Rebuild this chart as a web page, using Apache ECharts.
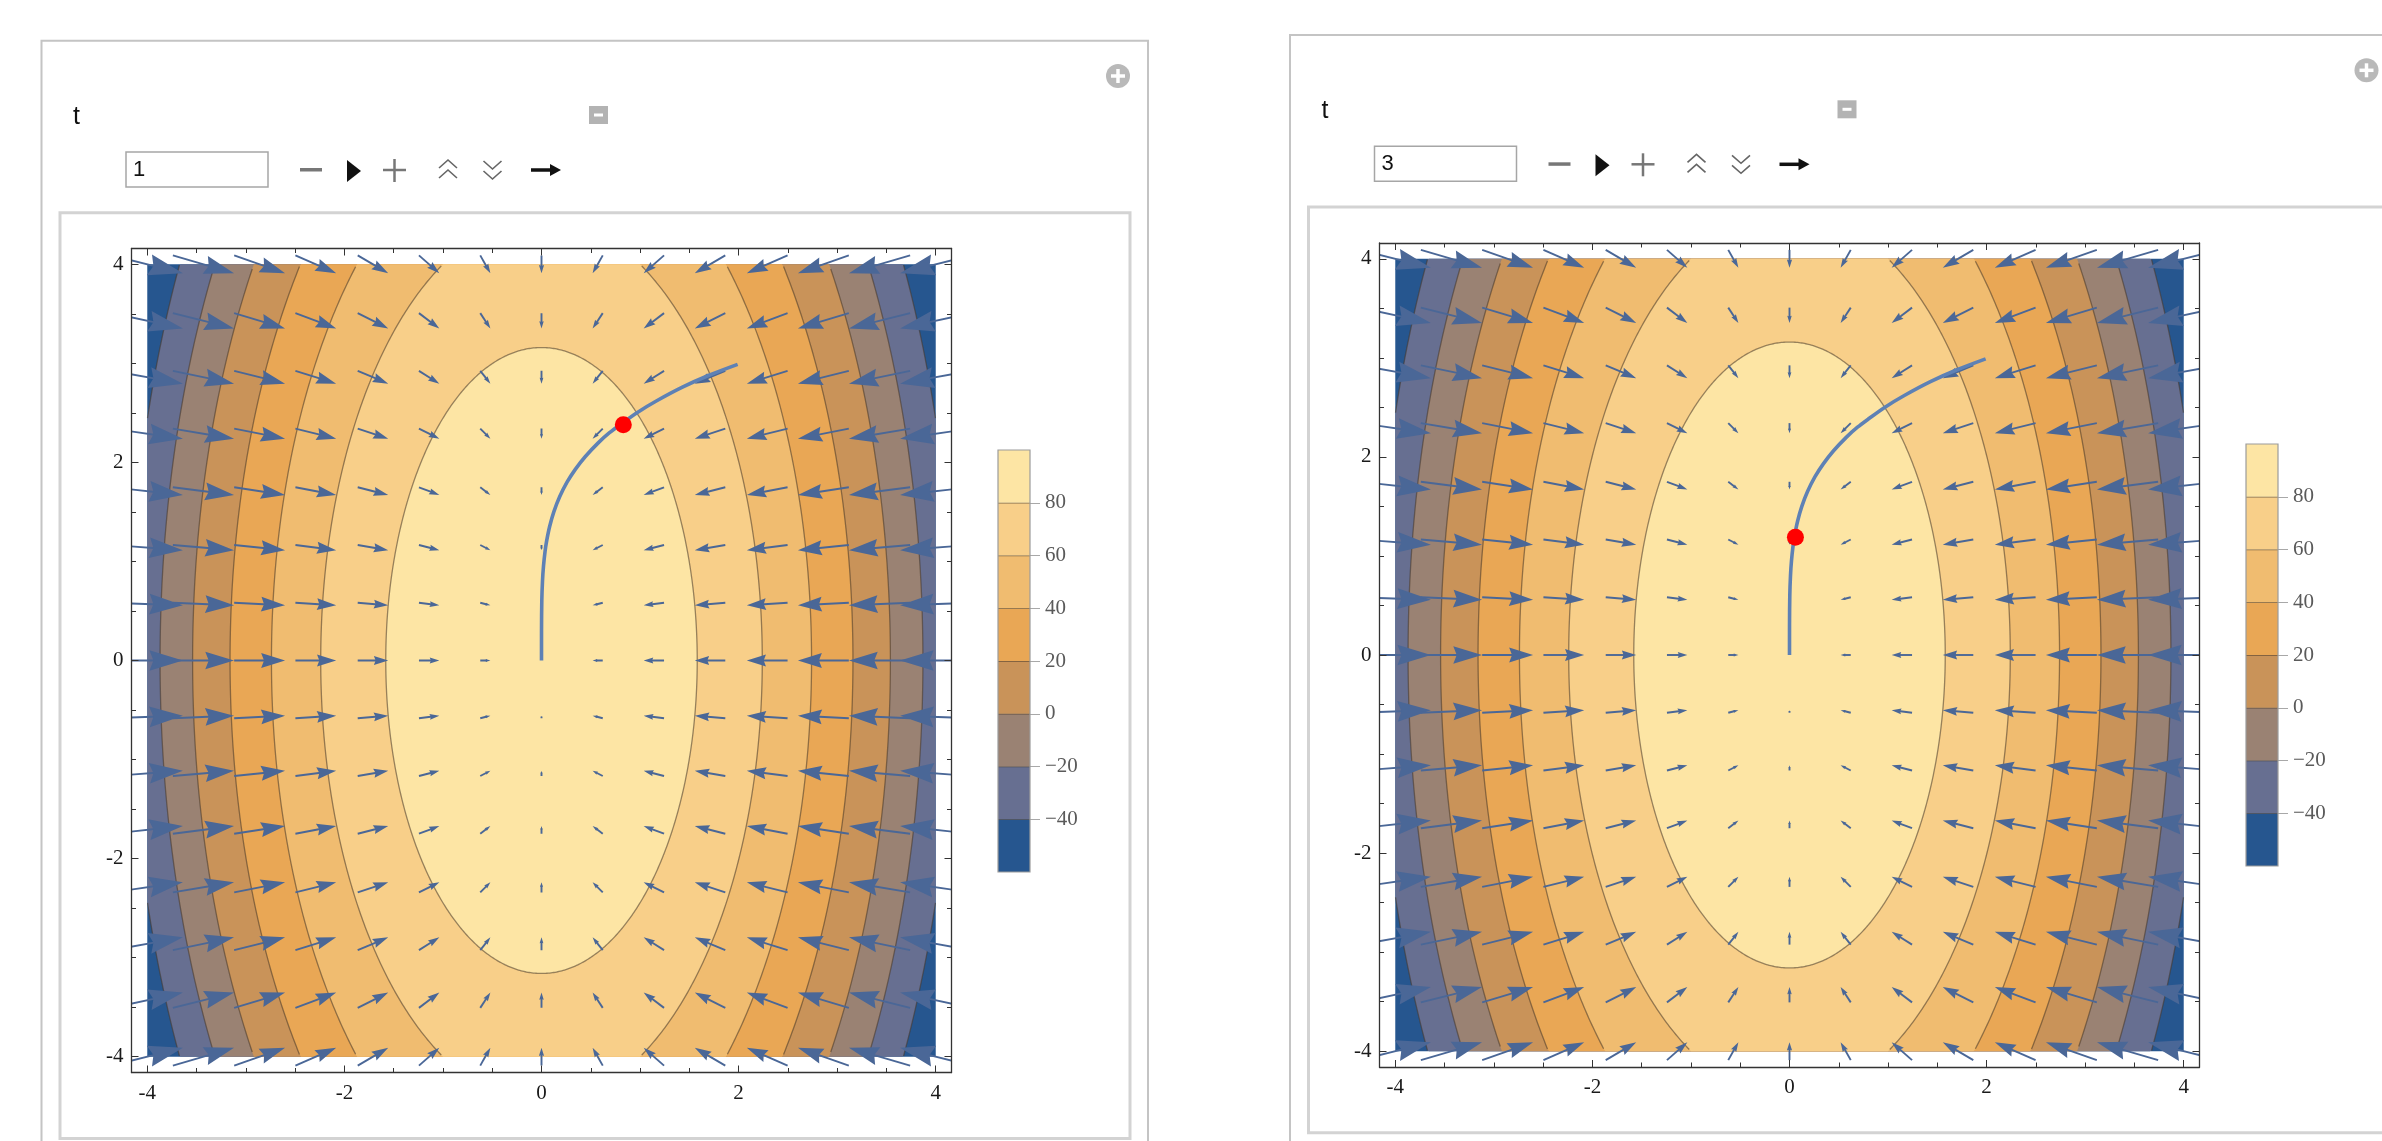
<!DOCTYPE html>
<html><head><meta charset="utf-8">
<script src="https://cdn.jsdelivr.net/npm/echarts@6/dist/echarts.min.js"></script>
<style>html,body{margin:0;padding:0;background:#fff;overflow:hidden}#c{width:2382px;height:1141px;}</style>
</head><body><div id="c"></div>
<script>
// ---------------- data ----------------
const tValues = [1, 3];
const contourLevels = [-40, -20, 0, 20, 40, 60, 80];
const bandColors = ['#26568f', '#676f91', '#9a8273', '#c99359', '#e9a755', '#f0bc70', '#f8cf89', '#fde5a4'];
// semi-axes of each contour ellipse (x half-width, y half-height), same order as contourLevels
const contourSemiX = [4.18, 3.87, 3.54, 3.16, 2.74, 2.24, 1.58];
const contourSemiY = [8.37, 7.75, 7.07, 6.32, 5.48, 4.47, 3.16];
// vector field sample grid and arrow components
const arrowGridX = [-4, -3.43, -2.86, -2.29, -1.71, -1.14, -0.57, 0, 0.57, 1.14, 1.71, 2.29, 2.86, 3.43, 4];
const arrowGridY = [-4, -3.43, -2.86, -2.29, -1.71, -1.14, -0.57, 0, 0.57, 1.14, 1.71, 2.29, 2.86, 3.43, 4];
const arrowDX = [64, 54.9, 45.7, 36.6, 27.4, 18.3, 9.1, 0, -9.1, -18.3, -27.4, -36.6, -45.7, -54.9, -64];
const arrowDY = [16, 13.7, 11.4, 9.1, 6.9, 4.6, 2.3, 0, -2.3, -4.6, -6.9, -9.1, -11.4, -13.7, -16];
// trajectory curve
const pathX = [0, 0.0002, 0.003, 0.01, 0.02, 0.036, 0.051, 0.082, 0.125, 0.183, 0.259, 0.343, 0.445, 0.578, 0.69, 0.81, 0.965, 1.165, 1.43, 1.70, 1.99];
const pathY = [0, 0.3, 0.6, 0.8, 0.95, 1.1, 1.2, 1.35, 1.5, 1.65, 1.8, 1.93, 2.06, 2.2, 2.3, 2.39, 2.5, 2.62, 2.76, 2.88, 2.99];
// red point position for each t
const pointX = [0.83, 0.06];
const pointY = [2.38, 1.19];
const majorTicks = [-4, -2, 0, 2, 4];
const minorTicks = [-3.5, -3, -2.5, -1.5, -1, -0.5, 0.5, 1, 1.5, 2.5, 3, 3.5];

// ---------------- styles ----------------
const FRAME = '#333333';
const ARROW_COLOR = '#4a6797';
const ARROW_SCALE = 0.0113;
const AX_MIN = -4.16, AX_MAX = 4.16;
const BOX = 4;

const plotGrids = [
  {left: 131.5, top: 248.5, width: 820, height: 824},
  {left: 1379.5, top: 243, width: 820, height: 824}
];
const legendGrids = [
  {left: 998, top: 450, width: 32, height: 422},
  {left: 2246, top: 444, width: 32, height: 422}
];
const panelOffsets = [[0, 0], [1248.5, -5.7]];
const innerBoxWidths = [1070, 1080];

const legendBounds = [contourLevels[0] - 20].concat(contourLevels, [contourLevels[contourLevels.length - 1] + 20]);

function fmtAxis(v) { return v < 0 ? '-' + (-v) : String(v); }
function fmtLegend(v) { return v < 0 ? '\u2212' + (-v) : String(v); }

const xAxes = [], yAxes = [];
function addPlotAxes(g) {
  const base = {gridIndex: g, type: 'value', min: AX_MIN, max: AX_MAX, splitLine: {show: false}, z: 10, silent: true};
  const lab = {show: true, customValues: majorTicks, formatter: fmtAxis, fontFamily: 'Liberation Serif', fontSize: 21, color: '#1a1a1a'};
  const line = {show: true, onZero: false, lineStyle: {color: FRAME, width: 1.3}};
  const noLine = {show: false, onZero: false};
  const maj = {show: true, inside: true, length: 7, customValues: majorTicks, lineStyle: {color: FRAME, width: 1}};
  const min = {show: true, inside: true, length: 4.5, customValues: minorTicks, lineStyle: {color: FRAME, width: 1}};
  xAxes.push(Object.assign({}, base, {position: 'bottom', axisLine: line, axisTick: maj, axisLabel: Object.assign({}, lab, {margin: 10})}));
  xAxes.push(Object.assign({}, base, {position: 'bottom', axisLine: noLine, axisTick: min, axisLabel: {show: false}}));
  xAxes.push(Object.assign({}, base, {position: 'top', axisLine: line, axisTick: maj, axisLabel: {show: false}}));
  xAxes.push(Object.assign({}, base, {position: 'top', axisLine: noLine, axisTick: min, axisLabel: {show: false}}));
  yAxes.push(Object.assign({}, base, {position: 'left', axisLine: line, axisTick: maj, axisLabel: Object.assign({}, lab, {margin: 8})}));
  yAxes.push(Object.assign({}, base, {position: 'left', axisLine: noLine, axisTick: min, axisLabel: {show: false}}));
  yAxes.push(Object.assign({}, base, {position: 'right', axisLine: line, axisTick: maj, axisLabel: {show: false}}));
  yAxes.push(Object.assign({}, base, {position: 'right', axisLine: noLine, axisTick: min, axisLabel: {show: false}}));
}
addPlotAxes(0); addPlotAxes(1);
[2, 3].forEach(g => {
  xAxes.push({gridIndex: g, type: 'value', min: 0, max: 1, show: false});
  yAxes.push({gridIndex: g, type: 'value', min: legendBounds[0], max: legendBounds[legendBounds.length - 1], position: 'right',
    splitLine: {show: false}, axisLine: {show: false, onZero: false},
    axisTick: {show: true, inside: false, length: 10, customValues: contourLevels, lineStyle: {color: '#a8a8a8', width: 1}},
    axisLabel: {show: true, customValues: contourLevels, formatter: fmtLegend, margin: 15, fontFamily: 'Liberation Serif', fontSize: 21, color: '#5a5a5a'}});
});

// ---------------- render items ----------------
function clampBox(v) { return Math.max(-BOX, Math.min(BOX, v)); }
function contourItem(params, api) {
  const k = api.value(2);
  if (k === 0) {
    const pts = [[-BOX, -BOX], [BOX, -BOX], [BOX, BOX], [-BOX, BOX]].map(p => api.coord(p));
    return {type: 'polygon', shape: {points: pts}, style: {fill: bandColors[0]}};
  }
  const ax = contourSemiX[k - 1], ay = contourSemiY[k - 1];
  const fillPts = [], runs = [];
  let cur = null;
  const N = 720;
  for (let d = 0; d <= N; d++) {
    const th = d / N * 2 * Math.PI;
    const x = ax * Math.cos(th), y = ay * Math.sin(th);
    fillPts.push(api.coord([clampBox(x), clampBox(y)]));
    if (Math.abs(x) <= BOX && Math.abs(y) <= BOX) {
      if (!cur) { cur = []; runs.push(cur); }
      cur.push(api.coord([x, y]));
    } else cur = null;
  }
  const children = [{type: 'polygon', shape: {points: fillPts}, style: {fill: bandColors[k]}}];
  runs.forEach(r => { if (r.length > 1) children.push({type: 'polyline', shape: {points: r}, style: {stroke: 'rgba(70,55,40,0.55)', lineWidth: 1.3, fill: null}}); });
  return {type: 'group', children: children};
}
function arrowItem(params, api) {
  const i = api.value(2), j = api.value(3);
  const cx = arrowGridX[i], cy = arrowGridY[j];
  const vx = arrowDX[i], vy = arrowDY[j];
  if (vx === 0 && vy === 0) return null;
  const s = ARROW_SCALE / 2;
  const p0 = api.coord([cx - vx * s, cy - vy * s]);
  const p1 = api.coord([cx + vx * s, cy + vy * s]);
  const dx = p1[0] - p0[0], dy = p1[1] - p0[1];
  const L = Math.hypot(dx, dy);
  if (L < 0.5) return null;
  const ux = dx / L, uy = dy / L;
  const h = 0.47 * L, w = 0.145 * L;
  const bx = p1[0] - ux * h, by = p1[1] - uy * h;
  return {type: 'group', children: [
    {type: 'line', shape: {x1: p0[0], y1: p0[1], x2: bx + ux * h * 0.3, y2: by + uy * h * 0.3}, style: {stroke: ARROW_COLOR, lineWidth: 1.9}},
    {type: 'polygon', shape: {points: [[p1[0], p1[1]], [bx - uy * w, by + ux * w], [bx + ux * h * 0.12, by + uy * h * 0.12], [bx + uy * w, by - ux * w]]}, style: {fill: ARROW_COLOR}}
  ]};
}
function legendItem(params, api) {
  const k = api.value(2);
  const nb = legendBounds.length - 1;
  if (k === nb) {
    const a = api.coord([0, legendBounds[nb]]), b = api.coord([1, legendBounds[0]]);
    return {type: 'rect', shape: {x: a[0], y: a[1], width: b[0] - a[0], height: b[1] - a[1]}, style: {fill: null, stroke: '#9c9c9c', lineWidth: 1.2}};
  }
  const a = api.coord([0, legendBounds[k + 1]]), b = api.coord([1, legendBounds[k]]);
  const ch = [{type: 'rect', shape: {x: a[0], y: a[1], width: b[0] - a[0], height: b[1] - a[1]}, style: {fill: bandColors[k]}}];
  if (k < nb - 1) ch.push({type: 'line', shape: {x1: a[0], y1: a[1], x2: b[0], y2: a[1]}, style: {stroke: 'rgba(60,50,40,0.65)', lineWidth: 1.5}});
  return {type: 'group', children: ch};
}

// ---------------- series ----------------
const contourData = [];
for (let k = 0; k <= contourLevels.length; k++) contourData.push([0, 0, k]);
const arrowData = [];
arrowGridX.forEach((x, i) => arrowGridY.forEach((y, j) => arrowData.push([x, y, i, j])));
const legendData = [];
for (let k = 0; k < legendBounds.length; k++) legendData.push([0.5, 0, k]);
const pathData = pathX.map((x, i) => [x, pathY[i]]);

const series = [];
[0, 1].forEach(g => {
  const xi = 4 * g, yi = 4 * g;
  series.push({type: 'custom', xAxisIndex: xi, yAxisIndex: yi, renderItem: contourItem, data: contourData, clip: true, z: 1, silent: true});
  series.push({type: 'custom', xAxisIndex: xi, yAxisIndex: yi, renderItem: arrowItem, data: arrowData, clip: true, z: 2, silent: true});
  series.push({type: 'line', xAxisIndex: xi, yAxisIndex: yi, data: pathData, showSymbol: false, smooth: 0.3, clip: true, z: 3, silent: true,
    lineStyle: {color: '#5e81b5', width: 3.6}});
  series.push({type: 'scatter', xAxisIndex: xi, yAxisIndex: yi, data: [[pointX[g], pointY[g]]], symbolSize: 17, z: 4, silent: true,
    itemStyle: {color: '#ff0000', opacity: 1}});
  series.push({type: 'custom', xAxisIndex: 8 + g, yAxisIndex: 8 + g, renderItem: legendItem, data: legendData, z: 2, silent: true});
});

// ---------------- Manipulate chrome ----------------
const graphics = [];
function chrome(dx, dy, tVal, innerW, innerH) {
  const G = graphics;
  G.push({type: 'rect', shape: {x: 41.5 + dx, y: 40.7 + dy, width: 1106.5, height: 1300}, style: {fill: null, stroke: '#c4c4c4', lineWidth: 2}, silent: true});
  G.push({type: 'rect', shape: {x: 60 + dx, y: 212.7 + dy, width: innerW, height: innerH}, style: {fill: null, stroke: '#d3d3d3', lineWidth: 3}, silent: true});
  // (+) icon
  G.push({type: 'circle', shape: {cx: 1118 + dx, cy: 76 + dy, r: 12}, style: {fill: '#b9b9b9'}, silent: true});
  G.push({type: 'line', shape: {x1: 1111 + dx, y1: 76 + dy, x2: 1125 + dx, y2: 76 + dy}, style: {stroke: '#fff', lineWidth: 3.5}, silent: true});
  G.push({type: 'line', shape: {x1: 1118 + dx, y1: 69 + dy, x2: 1118 + dx, y2: 83 + dy}, style: {stroke: '#fff', lineWidth: 3.5}, silent: true});
  // label t
  G.push({type: 'text', x: 73 + dx, y: 117 + dy, style: {text: 't', font: '25px "Liberation Sans"', fill: '#111', verticalAlign: 'middle', textVerticalAlign: 'middle'}, silent: true});
  // [-] box
  G.push({type: 'rect', shape: {x: 589 + dx, y: 106 + dy, width: 19, height: 18}, style: {fill: '#b3b3b3'}, silent: true});
  G.push({type: 'rect', shape: {x: 594 + dx, y: 113.5 + dy, width: 9, height: 3}, style: {fill: '#fff'}, silent: true});
  // input field
  G.push({type: 'rect', shape: {x: 126 + dx, y: 152 + dy, width: 142, height: 35}, style: {fill: '#fff', stroke: '#a6a6a6', lineWidth: 1.5}, silent: true});
  G.push({type: 'text', x: 133 + dx, y: 170 + dy, style: {text: String(tVal), font: '22px "Liberation Sans"', fill: '#111', verticalAlign: 'middle', textVerticalAlign: 'middle'}, silent: true});
  // controls
  G.push({type: 'rect', shape: {x: 300 + dx, y: 168 + dy, width: 22, height: 3.5}, style: {fill: '#777'}, silent: true});
  G.push({type: 'polygon', shape: {points: [[347 + dx, 160 + dy], [361 + dx, 171 + dy], [347 + dx, 182 + dy]]}, style: {fill: '#111'}, silent: true});
  G.push({type: 'line', shape: {x1: 383 + dx, y1: 170 + dy, x2: 406 + dx, y2: 170 + dy}, style: {stroke: '#777', lineWidth: 2.5}, silent: true});
  G.push({type: 'line', shape: {x1: 394.5 + dx, y1: 159 + dy, x2: 394.5 + dx, y2: 182 + dy}, style: {stroke: '#777', lineWidth: 2.5}, silent: true});
  [[160, 168], [170, 178]].forEach(p => G.push({type: 'polyline', shape: {points: [[439 + dx, p[1] + dy], [448 + dx, p[0] + dy], [457 + dx, p[1] + dy]]}, style: {stroke: '#666', lineWidth: 1.6, fill: null}, silent: true}));
  [[161, 169], [171, 179]].forEach(p => G.push({type: 'polyline', shape: {points: [[483.5 + dx, p[0] + dy], [492.5 + dx, p[1] + dy], [501.5 + dx, p[0] + dy]]}, style: {stroke: '#666', lineWidth: 1.6, fill: null}, silent: true}));
  G.push({type: 'line', shape: {x1: 531 + dx, y1: 170 + dy, x2: 552 + dx, y2: 170 + dy}, style: {stroke: '#111', lineWidth: 3.5}, silent: true});
  G.push({type: 'polygon', shape: {points: [[550 + dx, 164 + dy], [561 + dx, 170 + dy], [550 + dx, 176 + dy]]}, style: {fill: '#111'}, silent: true});
}
chrome(panelOffsets[0][0], panelOffsets[0][1], tValues[0], innerBoxWidths[0], 925.8);
chrome(panelOffsets[1][0], panelOffsets[1][1], tValues[1], innerBoxWidths[1], 925.8);

const chart = echarts.init(document.getElementById('c'), null, {renderer: 'canvas'});
chart.setOption({
  animation: false,
  backgroundColor: '#ffffff',
  grid: plotGrids.concat(legendGrids).map(g => Object.assign({containLabel: false}, g)),
  xAxis: xAxes,
  yAxis: yAxes,
  series: series,
  graphic: {elements: graphics}
});
</script>
</body></html>
